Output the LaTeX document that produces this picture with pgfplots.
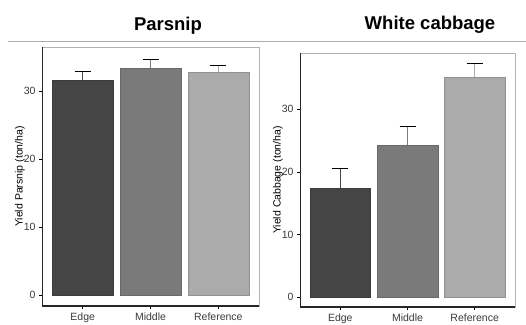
\documentclass[border=0pt]{standalone}
\usepackage{pgfplots}
\pgfplotsset{compat=1.18}
\usepackage{fontspec}
\setmainfont{Liberation Sans}
\definecolor{cEdge}{HTML}{454545}
\definecolor{cMid}{HTML}{7A7A7A}
\definecolor{cRef}{HTML}{ABABAB}
\definecolor{tickc}{HTML}{3A3A3A}
\pgfplotsset{panel/.style={
 scale only axis, ymin=-1.6, xmin=-0.6, xmax=2.6,
 xtick={0,1,2}, xticklabels={Edge,Middle,Reference},
 ytick={0,10,20,30}, tick align=outside, xtick pos=bottom, ytick pos=left,
 major tick length=3pt,
 tick style={color=black, line width=0.6pt},
 axis line style={draw=gray!60, line width=0.6pt},
 ticklabel style={font=\fontsize{10.5}{11}\selectfont, text=tickc},
 /pgf/number format/assume math mode=true,
 every axis y label/.style={at={(axis description cs:0,0.5)}, rotate=90, anchor=center, font=\fontsize{10.5}{11}\selectfont},
 ybar, bar shift=0pt, bar width=0.9,
 error bars/y dir=plus, error bars/y explicit,
 error bars/error mark options={rotate=90, mark size=8pt, line width=1.2pt},
}}
\begin{document}
\begin{tikzpicture}[x=1pt,y=1pt]
\useasboundingbox (0,0) rectangle (526,324);
\draw[gray!65, line width=1.3pt] (8,282.5) -- (526,282.5);
\node[anchor=base, font=\bfseries\fontsize{18.5}{20}\selectfont] at (168,293.5) {Parsnip};
\node[anchor=base, font=\bfseries\fontsize{18.5}{20}\selectfont] at (430,294.5) {White cabbage};
\begin{axis}[panel, at={(42pt,18pt)}, anchor=south west, width=217pt, height=259pt, ymax=36.5,
  ylabel={Yield Parsnip (ton/ha)}, ylabel style={yshift=22pt}]
\addplot[fill=cEdge, draw=cEdge!85!black, error bars/error bar style={draw=cEdge, line width=1.2pt}] coordinates {(0,31.6) +- (0,1.3)};
\addplot[fill=cMid, draw=cMid!85!black, error bars/error bar style={draw=cMid, line width=1.2pt}] coordinates {(1,33.4) +- (0,1.3)};
\addplot[fill=cRef, draw=cRef!85!black, error bars/error bar style={draw=cRef, line width=1.2pt}] coordinates {(2,32.8) +- (0,1.0)};
\draw[black!85, line width=1.4pt] (rel axis cs:0,1) -- (rel axis cs:0,0) -- (rel axis cs:1,0);
\end{axis}
\begin{axis}[panel, at={(300pt,17pt)}, anchor=south west, width=215pt, height=254pt, ymax=39,
  ylabel={Yield Cabbage (ton/ha)}, ylabel style={yshift=22pt}]
\addplot[fill=cEdge, draw=cEdge!85!black, error bars/error bar style={draw=cEdge, line width=1.2pt}] coordinates {(0,17.4) +- (0,3.1)};
\addplot[fill=cMid, draw=cMid!85!black, error bars/error bar style={draw=cMid, line width=1.2pt}] coordinates {(1,24.3) +- (0,2.9)};
\addplot[fill=cRef, draw=cRef!85!black, error bars/error bar style={draw=cRef, line width=1.2pt}] coordinates {(2,35.2) +- (0,2.1)};
\draw[black!85, line width=1.4pt] (rel axis cs:0,1) -- (rel axis cs:0,0) -- (rel axis cs:1,0);
\end{axis}
\end{tikzpicture}
\end{document}
